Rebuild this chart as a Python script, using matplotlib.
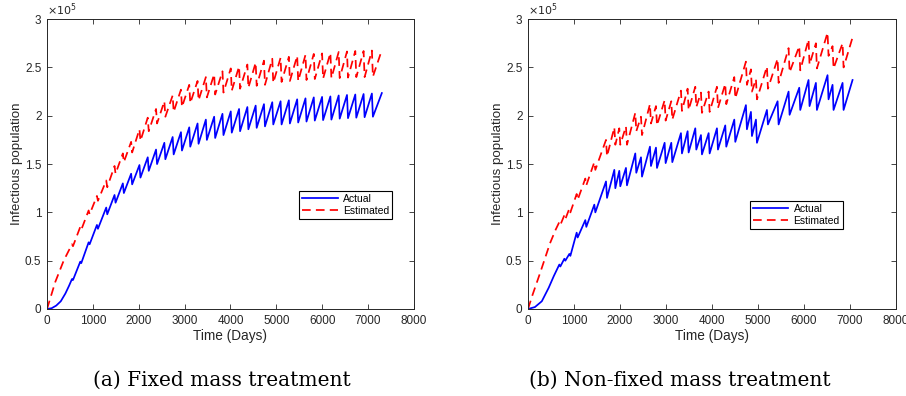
import numpy as np
import matplotlib
matplotlib.use("Agg")
import matplotlib.pyplot as plt
from matplotlib.ticker import FuncFormatter, MultipleLocator

plt.rcParams['font.family'] = ['Liberation Sans', 'DejaVu Sans']

SCALE = 1e5   # values below are read in units of 1e5

# ---- (a) fixed mass treatment ----
a_tooth_t = [544, 725, 907, 1088, 1291, 1472, 1653, 1834, 2015, 2196, 2377, 2558, 2739,
             2920, 3101, 3282, 3463, 3644, 3825, 4006, 4187, 4368, 4549, 4730, 4911,
             5092, 5273, 5454, 5635, 5816, 5997, 6178, 6359, 6540, 6721, 6902, 7083]
a_act_start_t = [0, 100, 200, 300, 400, 480]
a_act_start_v = [0, 0.008, 0.035, 0.08, 0.16, 0.24]
a_act_peak = [0.31, 0.49, 0.69, 0.87, 1.05, 1.18, 1.30, 1.40, 1.49, 1.57, 1.65, 1.72, 1.78,
              1.83, 1.88, 1.92, 1.96, 1.99, 2.02, 2.045, 2.07, 2.09, 2.105, 2.12, 2.14,
              2.15, 2.16, 2.17, 2.18, 2.19, 2.195, 2.20, 2.21, 2.215, 2.22, 2.225, 2.23]
a_act_trough = [0.30, 0.475, 0.67, 0.83, 0.98, 1.10, 1.20, 1.29, 1.36, 1.43, 1.50, 1.55, 1.60,
                1.64, 1.68, 1.71, 1.75, 1.77, 1.80, 1.825, 1.84, 1.86, 1.875, 1.89, 1.91,
                1.91, 1.92, 1.93, 1.94, 1.95, 1.955, 1.96, 1.97, 1.975, 1.98, 1.985, 1.99]
a_act_end = (7300, 2.235)
a_est_start_t = [0, 180, 363]
a_est_start_v = [0, 0.28, 0.50]
a_est_peak = [0.67, 0.85, 1.02, 1.17, 1.33, 1.48, 1.61, 1.73, 1.86, 1.98, 2.07, 2.15, 2.21,
              2.27, 2.32, 2.36, 2.40, 2.43, 2.46, 2.49, 2.51, 2.53, 2.55, 2.57, 2.59,
              2.60, 2.61, 2.62, 2.63, 2.64, 2.645, 2.65, 2.66, 2.665, 2.67, 2.67, 2.675]
a_est_trough = [0.65, 0.82, 0.98, 1.12, 1.26, 1.40, 1.52, 1.62, 1.74, 1.84, 1.92, 1.99, 2.04,
                2.09, 2.13, 2.16, 2.19, 2.22, 2.24, 2.26, 2.28, 2.29, 2.31, 2.32, 2.34,
                2.35, 2.36, 2.36, 2.37, 2.38, 2.385, 2.39, 2.39, 2.395, 2.40, 2.40, 2.405]
a_est_end = (7300, 2.68)

# ---- (b) non-fixed mass treatment ----
b_tooth_t = [681, 790, 899, 1058, 1246, 1442, 1696, 1877, 1985, 2130, 2333, 2457, 2652,
             2783, 2971, 3116, 3326, 3471, 3638, 3761, 3928, 4109, 4290, 4486, 4739,
             4848, 4957, 5196, 5428, 5667, 5899, 6101, 6261, 6514, 6623, 6841]
b_act_start_t = [0, 150, 300, 450, 560]
b_act_start_v = [0, 0.02, 0.08, 0.22, 0.34]
b_act_peak = [0.46, 0.52, 0.57, 0.79, 0.92, 1.08, 1.32, 1.44, 1.43, 1.46, 1.61, 1.57, 1.68,
              1.67, 1.72, 1.72, 1.82, 1.84, 1.87, 1.80, 1.82, 1.87, 1.90, 1.96, 2.11,
              2.04, 1.96, 2.06, 2.15, 2.25, 2.29, 2.37, 2.34, 2.42, 2.32, 2.34]
b_act_trough = [0.44, 0.50, 0.55, 0.74, 0.85, 1.00, 1.15, 1.25, 1.27, 1.28, 1.41, 1.37, 1.48,
                1.46, 1.51, 1.52, 1.61, 1.62, 1.65, 1.60, 1.61, 1.65, 1.68, 1.73, 1.86,
                1.79, 1.72, 1.91, 1.91, 2.01, 2.06, 2.10, 2.06, 2.17, 2.06, 2.06]
b_act_end = (7058, 2.37)
b_est_start_t = [0, 101, 261, 478, 600]
b_est_start_v = [0, 0.15, 0.37, 0.68, 0.82]
b_est_peak = [0.90, 0.97, 1.04, 1.19, 1.35, 1.52, 1.75, 1.88, 1.87, 1.89, 2.03, 1.99, 2.12,
              2.10, 2.16, 2.15, 2.26, 2.28, 2.30, 2.24, 2.25, 2.30, 2.33, 2.40, 2.56,
              2.48, 2.38, 2.51, 2.59, 2.70, 2.72, 2.79, 2.75, 2.86, 2.72, 2.75]
b_est_trough = [0.87, 0.93, 1.00, 1.13, 1.28, 1.44, 1.58, 1.70, 1.70, 1.70, 1.84, 1.80, 1.92,
                1.90, 1.95, 1.96, 2.05, 2.06, 2.09, 2.03, 2.04, 2.08, 2.12, 2.18, 2.32,
                2.25, 2.17, 2.28, 2.34, 2.45, 2.47, 2.53, 2.49, 2.62, 2.49, 2.50]
b_est_end = (7058, 2.81)

CAPTIONS = ["(a) Fixed mass treatment", "(b) Non-fixed mass treatment"]
AXCOL = "#262626"


def sawtooth(t0, v0, tp, peak, trough, end, drop=22):
    t, v = list(t0), list(v0)
    for a, p, q in zip(tp, peak, trough):
        t += [a, a + drop]
        v += [p, q]
    t.append(end[0]); v.append(end[1])
    return np.array(t), np.array(v) * SCALE


def panel(ax, act, est, leg_anchor):
    ax.plot(*act, color="#0000ff", lw=1.25, label="Actual")
    ax.plot(*est, color="#ff0000", lw=1.25, ls=(0, (5, 3)), label="Estimated")
    ax.set_xlim(0, 8000); ax.set_ylim(0, 3e5)
    ax.xaxis.set_major_locator(MultipleLocator(1000))
    ax.yaxis.set_major_locator(MultipleLocator(0.5e5))
    ax.yaxis.set_major_formatter(FuncFormatter(lambda v, _: "%g" % (v / SCALE)))
    ax.tick_params(direction="in", top=True, right=True, length=3.5, width=0.6,
                   labelsize=8.5, colors=AXCOL, pad=4)
    for s in ax.spines.values():
        s.set_color(AXCOL); s.set_linewidth(0.7)
    ax.text(0.0, 1.005, r"$\times10^5$", transform=ax.transAxes, fontsize=8,
            color=AXCOL, ha="left", va="bottom", family="DejaVu Sans")
    ax.set_xlabel("Time (Days)", fontsize=9.8, color=AXCOL, labelpad=2)
    ax.set_ylabel("Infectious population", fontsize=9.6, color=AXCOL)
    ax.yaxis.set_label_coords(-0.066, 0.5)
    leg = ax.legend(loc="lower left", bbox_to_anchor=leg_anchor, fontsize=7.5,
                    frameon=True, fancybox=False, edgecolor="black", framealpha=1,
                    handlelength=3.4, borderpad=0.3, labelspacing=0.2,
                    handletextpad=0.5, borderaxespad=0)
    leg.get_frame().set_linewidth(0.8)


fig = plt.figure(figsize=(9.06, 3.96), dpi=100)
ax_a = fig.add_axes([0.0519, 0.2197, 0.405, 0.732])
ax_b = fig.add_axes([0.5828, 0.2197, 0.406, 0.732])

panel(ax_a,
      sawtooth(a_act_start_t, a_act_start_v, a_tooth_t, a_act_peak, a_act_trough, a_act_end),
      sawtooth(a_est_start_t, a_est_start_v, a_tooth_t, a_est_peak, a_est_trough, a_est_end),
      (0.687, 0.31))
panel(ax_b,
      sawtooth(b_act_start_t, b_act_start_v, b_tooth_t, b_act_peak, b_act_trough, b_act_end),
      sawtooth(b_est_start_t, b_est_start_v, b_tooth_t, b_est_peak, b_est_trough, b_est_end),
      (0.603, 0.276))

fig.text(222 / 906, 1 - 380 / 396, CAPTIONS[0], ha="center", va="center",
         fontsize=14.5, family="DejaVu Serif")
fig.text(680 / 906, 1 - 380 / 396, CAPTIONS[1], ha="center", va="center",
         fontsize=14.5, family="DejaVu Serif")

fig.savefig("out.png", dpi=100)
